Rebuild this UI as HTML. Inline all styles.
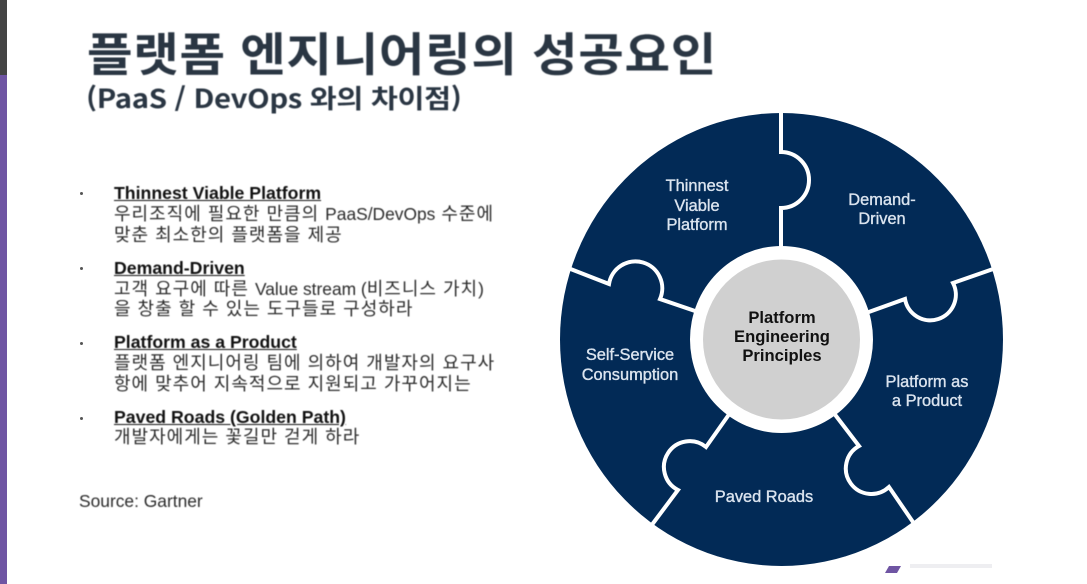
<!DOCTYPE html>
<html lang="ko"><head><meta charset="utf-8">
<style>
html,body{margin:0;padding:0;background:#fff}
#p{position:relative;width:1087px;height:584px;overflow:hidden;background:#fff;font-family:"Liberation Sans","Noto Sans CJK KR",sans-serif}
.t{position:absolute;white-space:nowrap;color:#2b2b2b;font-size:18px;letter-spacing:1px;line-height:20px;filter:blur(.4px)}
.l{font-size:17.4px;letter-spacing:0}
.b{font-size:17.7px;letter-spacing:0;font-weight:700;text-decoration:underline;text-underline-offset:1px;color:#111}
.d{position:absolute;left:80px;width:3px;height:3px;border-radius:50%;background:#555}
svg{position:absolute;left:0;top:0}
</style></head><body><div id="p">
<div style="position:absolute;left:0;top:0;width:7px;height:75px;background:#444"></div>
<div style="position:absolute;left:0;top:75px;width:7px;height:509px;background:#6f55a3"></div>
<div class="t" style="left:87px;top:19px;font-size:46px;line-height:66px;letter-spacing:.6px;font-weight:700;color:#2a3643;font-family:'Noto Sans CJK KR',sans-serif;transform:scaleX(1.077);transform-origin:0 0">플랫폼 엔지니어링의 성공요인</div>
<div class="t" style="left:86px;top:78px;font-size:26px;line-height:40px;font-weight:700;color:#2a3643;font-family:'Noto Sans CJK KR',sans-serif;letter-spacing:-.3px;transform:scaleX(1.127);transform-origin:0 0">(PaaS / DevOps 와의 차이점)</div>

<div class="d" style="top:192px"></div>
<div class="t b" style="left:114px;top:183px;">Thinnest Viable Platform</div>
<div class="t" style="left:114px;top:204px;">우리조직에 필요한 만큼의 <span class="l">PaaS/DevOps</span> 수준에</div>
<div class="t" style="left:114px;top:225px;">맞춘 최소한의 플랫폼을 제공</div>

<div class="d" style="top:267px"></div>
<div class="t b" style="left:114px;top:258px;">Demand-Driven</div>
<div class="t" style="left:114px;top:279px;">고객 요구에 따른 <span class="l">Value stream (</span>비즈니스 가치<span class="l">)</span></div>
<div class="t" style="left:114px;top:299px;">을 창출 할 수 있는 도구들로 구성하라</div>

<div class="d" style="top:342px"></div>
<div class="t b" style="left:114px;top:332px;">Platform as a Product</div>
<div class="t" style="left:114px;top:353px;">플랫폼 엔지니어링 팀에 의하여 개발자의 요구사</div>
<div class="t" style="left:114px;top:374px;">항에 맞추어 지속적으로 지원되고 가꾸어지는</div>

<div class="d" style="top:417px"></div>
<div class="t b" style="left:114px;top:407px;">Paved Roads (Golden Path)</div>
<div class="t" style="left:114px;top:427px;">개발자에게는 꽃길만 걷게 하라</div>

<div class="t l" style="left:79px;top:491px;">Source: Gartner</div>

<svg width="1087" height="584" viewBox="0 0 1087 584">
<ellipse cx="781.5" cy="339.5" rx="221.5" ry="226.5" fill="#022a56"/>
<g fill="none" stroke="#fff" stroke-width="4" stroke-linejoin="miter">
<path d="M781 110V152A28 28 0 0 1 781 208V248"/>
<path d="M996 268L953 283A25.6 25.6 0 1 1 905 299L866 313"/>
<path d="M833 412L859 446A25.6 25.6 0 1 0 889 487L915 525"/>
<path d="M730 413L706 447A25.8 25.8 0 1 0 678 490L651 526"/>
<path d="M568 268L609 284A26.8 26.8 0 1 1 660 299L698 312"/>
</g>
<ellipse cx="781.5" cy="339.5" rx="91.5" ry="93.5" fill="#fff"/>
<ellipse cx="781.5" cy="339.5" rx="78.5" ry="80" fill="#d0d0d0"/>
<path d="M889 566H901L897 573H885Z" fill="#6f55a3"/>
<rect x="910" y="564" width="82" height="4" fill="#eeeef1"/>
<g font-family="'Liberation Sans',sans-serif" font-size="16.4" text-anchor="middle" fill="#dbe4ef" stroke="#dbe4ef" stroke-width=".35" style="filter:blur(.3px)">
<text x="697" y="191">Thinnest</text>
<text x="697" y="211">Viable</text>
<text x="697" y="230">Platform</text>
<text x="882" y="205">Demand-</text>
<text x="882" y="224">Driven</text>
<text x="630" y="360">Self-Service</text>
<text x="630" y="380">Consumption</text>
<text x="927" y="387">Platform as</text>
<text x="927" y="406">a Product</text>
<text x="764" y="502">Paved Roads</text>
</g>
<g font-family="'Liberation Sans',sans-serif" font-size="16.6" font-weight="700" text-anchor="middle" fill="#111" style="filter:blur(.2px)">
<text x="782" y="323">Platform</text>
<text x="782" y="342">Engineering</text>
<text x="782" y="361">Principles</text>
</g>
</svg>
</div></body></html>
